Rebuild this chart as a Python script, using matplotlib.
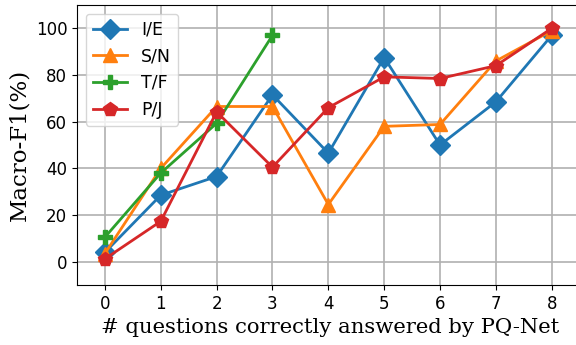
"""Macro-F1 by number of questions correctly answered by PQ-Net."""

import matplotlib
matplotlib.use("Agg")
import matplotlib.pyplot as plt

x_ie = [0, 1, 2, 3, 4, 5, 6, 7, 8]
ie = [4, 28.5, 36.5, 71.5, 46.5, 87.5, 50, 68.5, 97]

x_sn = [0, 1, 2, 3, 4, 5, 6, 7, 8]
sn = [3.5, 40, 66.5, 66.5, 24.5, 58, 58.8, 86, 99]

x_tf = [0, 1, 2, 3]
tf = [10.5, 38, 59.3, 97]

x_pj = [0, 1, 2, 3, 4, 5, 6, 7, 8]
pj = [1.2, 17.3, 64.2, 40.5, 66, 79.2, 78.5, 84, 100]

fig = plt.figure(figsize=(5.76, 3.45), dpi=100)
ax = fig.add_axes([77 / 576, 60 / 345, 506 / 576, 280 / 345])

ax.plot(x_ie, ie, marker="D", color="tab:blue", lw=2, ms=10, label="I/E")
ax.plot(x_sn, sn, marker="^", color="tab:orange", lw=2, ms=10, label="S/N")
ax.plot(x_tf, tf, marker="P", color="tab:green", lw=2, ms=10, label="T/F")
ax.plot(x_pj, pj, marker="p", color="tab:red", lw=2, ms=10, label="P/J")

ax.set_xlim(-0.5, 8.56)
ax.set_ylim(-10, 110)
ax.set_xticks(range(9))
ax.set_yticks([0, 20, 40, 60, 80, 100])
ax.tick_params(labelsize=12)
ax.grid(True, color="#b0b0b0", lw=1.2)
ax.set_axisbelow(True)

ax.set_xlabel("# questions correctly answered by PQ-Net", family="DejaVu Serif", fontsize=15.2)
ax.set_ylabel("Macro-F1(%)", family="DejaVu Serif", fontsize=16.5)
ax.legend(loc="upper left", fontsize=12.5)

fig.savefig("out.png")
